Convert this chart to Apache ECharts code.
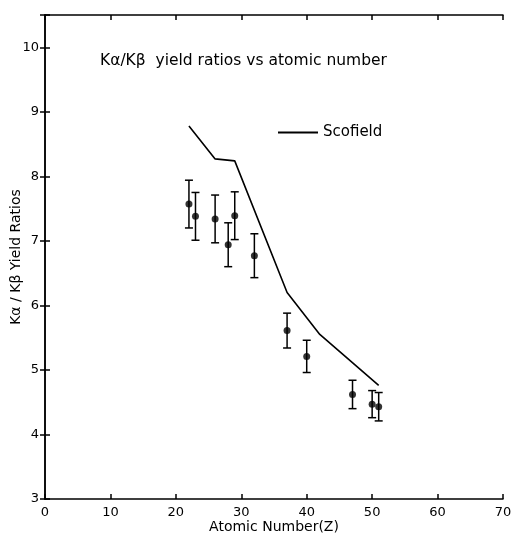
<!DOCTYPE html>
<html>
<head>
<meta charset="utf-8">
<script src="https://cdn.jsdelivr.net/npm/echarts@6/dist/echarts.min.js"></script>
<style>
  html, body { margin: 0; padding: 0; background: #fff; }
  #main { width: 513px; height: 540px; }
</style>
</head>
<body>
<div id="main"></div>
<script>
// measured points (Z, ratio, error)
var atomicNumbers = [22, 23, 26, 28, 29, 32, 37, 40, 47, 50, 51];
var yieldRatios = [7.57, 7.38, 7.34, 6.94, 7.39, 6.77, 5.61, 5.21, 4.62, 4.47, 4.43];
var yieldErrors = [0.37, 0.37, 0.37, 0.34, 0.37, 0.34, 0.27, 0.25, 0.22, 0.21, 0.22];

// Scofield theory curve
var scofieldZ = [22, 26, 29, 37, 42, 51];
var scofieldRatio = [8.78, 8.27, 8.24, 6.2, 5.55, 4.76];

var xTicks = [0, 10, 20, 30, 40, 50, 60, 70];
var yTicks = [3, 4, 5, 6, 7, 8, 9, 10];

var font = "DejaVu Sans";
var chart = echarts.init(document.getElementById("main"));

var points = atomicNumbers.map(function (z, i) { return [z, yieldRatios[i]]; });
var bars = atomicNumbers.map(function (z, i) {
  return [z, yieldRatios[i] - yieldErrors[i], yieldRatios[i] + yieldErrors[i]];
});
var curve = scofieldZ.map(function (z, i) { return [z, scofieldRatio[i]]; });

var axisLine = { show: true, lineStyle: { color: "#000", width: 1.5 } };
var tick = { show: true, inside: true, length: 5, lineStyle: { color: "#000", width: 1.5 } };

var option = {
  animation: false,
  grid: { left: 45, right: 10, top: 15, bottom: 41, outerBoundsMode: "none", containLabel: false },
  graphic: [{
    type: "text", left: 100, top: 53,
    style: { text: "Kα/Kβ  yield ratios vs atomic number", font: "15.5px " + font, fill: "#000" }
  }],
  legend: {
    left: 273, top: 120,
    icon: "path://M0,0H40V2H0Z",
    itemWidth: 40, itemHeight: 2, itemGap: 8,
    itemStyle: { color: "#000" },
    textStyle: { fontFamily: font, fontSize: 15, color: "#000" },
    data: ["Scofield"]
  },
  xAxis: [{
    type: "value", min: 0, max: 70, interval: 10,
    name: "Atomic Number(Z)", nameLocation: "middle", nameGap: 21, nameMoveOverlap: false,
    nameTextStyle: { fontFamily: font, fontSize: 14, color: "#000" },
    axisLine: axisLine, axisTick: tick, splitLine: { show: false },
    axisLabel: {
      fontFamily: font, fontSize: 13, color: "#000", margin: 7,
      formatter: function (v) { return xTicks.indexOf(v) >= 0 ? String(v) : ""; }
    }
  }, {
    type: "value", position: "top", min: 0, max: 70, interval: 10,
    axisLine: axisLine, axisTick: tick, splitLine: { show: false },
    axisLabel: { show: false }
  }],
  yAxis: [{
    type: "value", min: 3, max: 10.5, interval: 1,
    name: "Kα / Kβ Yield Ratios", nameLocation: "middle", nameGap: 22, nameMoveOverlap: false,
    nameTextStyle: { fontFamily: font, fontSize: 14, color: "#000" },
    axisLine: axisLine, axisTick: tick, splitLine: { show: false },
    axisLabel: {
      fontFamily: font, fontSize: 13, color: "#000", margin: 6,
      formatter: function (v) { return yTicks.indexOf(v) >= 0 ? String(v) : ""; }
    }
  }, {
    type: "value", position: "right", min: 3, max: 10.5, interval: 1,
    axisLine: axisLine, axisTick: tick, splitLine: { show: false },
    axisLabel: { show: false }
  }],
  series: [{
    name: "Scofield", type: "line", data: curve,
    symbol: "none", lineStyle: { color: "#000", width: 1.6 }, itemStyle: { color: "#000" }
  }, {
    type: "custom", data: bars,
    renderItem: function (params, api) {
      var lo = api.coord([api.value(0), api.value(1)]);
      var hi = api.coord([api.value(0), api.value(2)]);
      var w = 4;
      var st = { stroke: "#000", lineWidth: 1.5 };
      return {
        type: "group", children: [
          { type: "line", shape: { x1: lo[0], y1: lo[1], x2: hi[0], y2: hi[1] }, style: st },
          { type: "line", shape: { x1: lo[0] - w, y1: lo[1], x2: lo[0] + w, y2: lo[1] }, style: st },
          { type: "line", shape: { x1: hi[0] - w, y1: hi[1], x2: hi[0] + w, y2: hi[1] }, style: st }
        ]
      };
    },
    encode: { x: 0, y: [1, 2] }
  }, {
    type: "scatter", data: points, symbol: "circle", symbolSize: 7,
    itemStyle: { color: "#000" }
  }]
};
chart.setOption(option);
</script>
</body>
</html>
